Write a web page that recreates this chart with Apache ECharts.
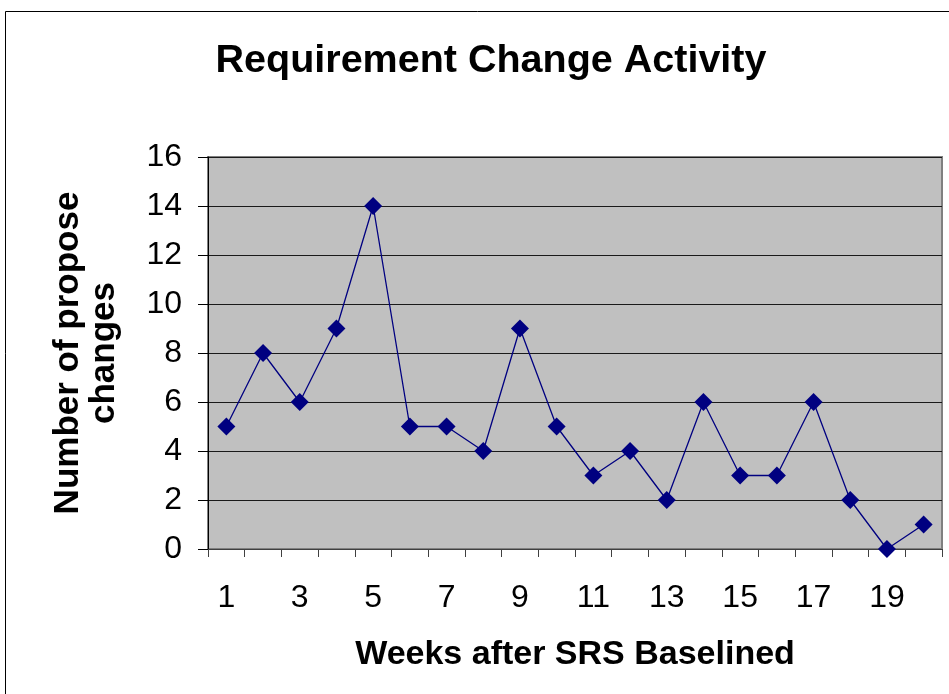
<!DOCTYPE html>
<html>
<head>
<meta charset="utf-8">
<script src="https://cdn.jsdelivr.net/npm/echarts@6/dist/echarts.min.js"></script>
<style>
  html, body { margin: 0; padding: 0; background: #fff; }
  #chart { width: 949px; height: 694px; }
</style>
</head>
<body>
<div id="chart"></div>
<script>
// Weekly count of proposed requirement changes after the SRS baseline
const weeks = ['1','2','3','4','5','6','7','8','9','10','11','12','13','14','15','16','17','18','19','20'];
const proposedChanges = [5, 8, 6, 9, 14, 5, 5, 4, 9, 5, 3, 4, 2, 6, 3, 3, 6, 2, 0, 1];
const yTicks = { min: 0, max: 16, step: 2 };

const FONT = '"Liberation Sans", Arial, sans-serif';
const chart = echarts.init(document.getElementById('chart'), null, { renderer: 'canvas' });

chart.setOption({
  backgroundColor: '#ffffff',
  animation: false,
  title: {
    text: 'Requirement Change Activity',
    left: 486,
    top: 36,
    textAlign: 'center',
    textStyle: { fontFamily: FONT, fontSize: 39.5, fontWeight: 'bold', color: '#000' }
  },
  graphic: [{
    type: 'rect',
    shape: { x: 5.5, y: 11.5, width: 1200, height: 1200 },
    style: { fill: 'none', stroke: '#000', lineWidth: 1 },
    silent: true,
    z: -1
  }],
  grid: {
    left: 208,
    top: 157,
    right: 7,
    bottom: 145,
    show: true,
    backgroundColor: '#c0c0c0',
    borderColor: '#808080',
    borderWidth: 2
  },
  xAxis: {
    type: 'category',
    data: weeks,
    boundaryGap: true,
    name: 'Weeks after SRS Baselined',
    nameLocation: 'middle',
    nameGap: 89,
    nameTextStyle: { fontFamily: FONT, fontSize: 34, fontWeight: 'bold', color: '#000' },
    axisLine: { show: true, lineStyle: { color: '#404040', width: 1 } },
    axisTick: { show: true, interval: 0, length: 8, lineStyle: { color: '#404040' } },
    axisLabel: {
      interval: 1,
      margin: 33,
      fontFamily: FONT,
      fontSize: 32,
      color: '#000'
    },
    splitLine: { show: false }
  },
  yAxis: {
    type: 'value',
    min: yTicks.min,
    max: yTicks.max,
    interval: yTicks.step,
    name: 'Number of propose\nchanges',
    nameLocation: 'middle',
    nameRotate: 90,
    nameGap: 86,
    nameTextStyle: { fontFamily: FONT, fontSize: 35, fontWeight: 'bold', color: '#000', lineHeight: 36, align: 'center' },
    axisLine: { show: true, lineStyle: { color: '#000', width: 1 } },
    axisTick: { show: true, length: 10, lineStyle: { color: '#000' } },
    axisLabel: {
      margin: 26,
      fontFamily: FONT,
      fontSize: 32,
      color: '#000'
    },
    splitLine: { show: true, lineStyle: { color: '#1a1a1a', width: 1 } }
  },
  series: [{
    type: 'line',
    data: proposedChanges,
    symbol: 'diamond',
    symbolSize: 18,
    showAllSymbol: true,
    lineStyle: { color: '#000080', width: 1.3 },
    itemStyle: { color: '#000080' },
    z: 5
  }]
});
</script>
</body>
</html>
